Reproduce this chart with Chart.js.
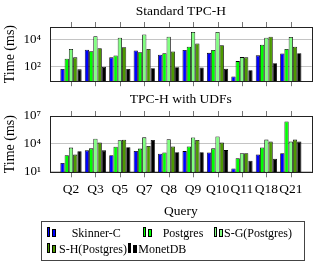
<!DOCTYPE html>
<html><head><meta charset="utf-8">
<script src="https://cdn.jsdelivr.net/npm/chart.js@4/dist/chart.umd.min.js"></script>
<style>
html,body{margin:0;padding:0;background:#fff;width:319px;height:266px;overflow:hidden;font-family:"Liberation Serif",serif;}
canvas{position:absolute;left:0;}
#legend{position:absolute;left:41px;top:221px;width:264px;height:40px;border:1px solid #444;box-sizing:border-box;}
.it{position:absolute;font-size:12px;line-height:14px;white-space:nowrap;color:#000;}
.ic{position:absolute;width:10px;height:10px;}
.ic span{position:absolute;bottom:0;border:1px solid #000;box-sizing:border-box;}
</style></head><body>
<canvas id="c1" width="319" height="98" style="top:0"></canvas>
<canvas id="c2" width="319" height="130" style="top:90px"></canvas>
<div id="legend"></div>
<script>
// ---- data ----
const categories = ['Q2','Q3','Q5','Q7','Q8','Q9','Q10','Q11','Q18','Q21'];
const seriesNames = ['Skinner-C','Postgres','S-G(Postgres)','S-H(Postgres)','MonetDB'];
const seriesColors = ['#0000ff','#00ff00','#80ff80','#4c9900','#000000'];

const stdSkinnerC = [68, 1820, 490, 1550, 760, 1740, 1050, 19, 690, 950];
const stdPostgres = [390, 1380, 680, 1170, 1000, 3000, 1740, 260, 4200, 2040];
const stdSG       = [2040, 18000, 13800, 24000, 16200, 37000, 37000, 510, 13800, 15500];
const stdSH       = [490, 2300, 2700, 2040, 1320, 5100, 3900, 490, 16200, 3000];
const stdMonetDB  = [64, 100, 68, 76, 93, 89, 72, 55, 180, 1000];

const udfSkinnerC = [79, 1860, 540, 1590, 800, 1550, 1120, 20, 680, 930];
const udfPostgres = [540, 3090, 4700, 2900, 1120, 5000, 3090, 260, 3900, 2570000];
const udfSG       = [3700, 35000, 23000, 48000, 29500, 46000, 59000, 930, 27500, 16600];
const udfSH       = [650, 13000, 27000, 5500, 5000, 24500, 13000, 930, 16600, 27500];
const udfMonetDB  = [1480, 1860, 4000, 24500, 1200, 1200, 2000, 138, 230, 16600];

const stdTicks = [100, 10000];
const stdTickLabels = ['10²', '10⁴'];
const udfTicks = [10, 10000, 10000000];
const udfTickLabels = ['10¹', '10⁴', '10⁷'];

const titles = ['Standard TPC-H', 'TPC-H with UDFs'];
const yTitle = 'Time (ms)';
const xTitle = 'Query';

// ---- helpers ----
const FONT = '"Liberation Serif", serif';
const framePlugin = {
  id: 'frame',
  afterDraw(chart) {
    const {ctx, chartArea: a, scales: {x}} = chart;
    ctx.save();
    ctx.strokeStyle = '#777'; ctx.lineWidth = 1;
    x.ticks.forEach(t => {
      const px = Math.round(x.getPixelForValue(t.value)) + 0.5;
      ctx.beginPath();
      ctx.moveTo(px, a.top - 5); ctx.lineTo(px, a.top);
      ctx.moveTo(px, a.bottom); ctx.lineTo(px, a.bottom + 5);
      ctx.stroke();
    });
    ctx.strokeStyle = '#222';
    ctx.strokeRect(Math.round(a.left) + 0.5, Math.round(a.top) + 0.5,
                   Math.round(a.right - a.left), Math.round(a.bottom - a.top));
    ctx.restore();
  }
};
const plotTitlePlugin = {
  id: 'plotTitle',
  afterDraw(chart, args, o) {
    const {ctx, chartArea: a} = chart;
    ctx.save();
    ctx.fillStyle = '#000';
    ctx.font = '13.5px ' + FONT;
    ctx.textAlign = 'center';
    ctx.textBaseline = 'middle';
    ctx.fillText(o.text, (a.left + a.right) / 2, o.y);
    ctx.restore();
  }
};

function makeChart(id, seriesArrays, ticks, tickLabels, yMin, yMax, title, opts) {
  const datasets = seriesArrays.map((arr, i) => ({
    label: seriesNames[i],
    data: arr.map((v, j) => ({x: j, y: v})),
    backgroundColor: seriesColors[i],
    borderColor: '#000',
    borderWidth: 0.8,
    categoryPercentage: 0.87,
    barPercentage: 1.0
  }));
  return new Chart(document.getElementById(id), {
    type: 'bar',
    data: {datasets},
    plugins: [framePlugin, plotTitlePlugin],
    options: {
      responsive: false, animation: false, devicePixelRatio: 1,
      layout: {padding: {left: 0, right: 7.3, top: opts.top, bottom: 0}},
      plugins: {
        legend: {display: false}, tooltip: {enabled: false}, title: {display: false},
        plotTitle: {text: title, y: opts.titleY}
      },
      scales: {
        x: {
          type: 'linear', min: -0.86, max: 9.856, offset: false,
          afterBuildTicks: s => { s.ticks = categories.map((c, i) => ({value: i})); },
          afterFit: s => { s.height = opts.xHeight; },
          grid: {display: false, drawTicks: false},
          border: {display: false},
          ticks: {display: opts.showX, autoSkip: false, maxRotation: 0, minRotation: 0,
            padding: 9, color: '#000', font: {family: FONT, size: 13.5},
            callback: (v) => categories[v]},
          title: {display: opts.showX, text: xTitle, color: '#000',
            font: {family: FONT, size: 13.5}, padding: {top: 2, bottom: 0}}
        },
        y: {
          type: 'logarithmic', min: yMin, max: yMax,
          afterBuildTicks: s => { s.ticks = ticks.map(v => ({value: v})); },
          afterFit: s => { s.width = 50; },
          grid: {color: '#c4c4c4', lineWidth: 1, drawTicks: false},
          border: {display: false},
          ticks: {padding: 9, color: '#000', font: {family: FONT, size: 13},
            callback: (v) => { const k = ticks.indexOf(v); return k >= 0 ? tickLabels[k] : ''; }},
          title: {display: true, text: yTitle, color: '#000',
            font: {family: FONT, size: 14}, padding: {top: 2, bottom: 0}}
        }
      }
    }
  });
}

makeChart('c1', [stdSkinnerC, stdPostgres, stdSG, stdSH, stdMonetDB],
  stdTicks, stdTickLabels, Math.pow(10, 0.93), Math.pow(10, 4.93), titles[0],
  {top: 27, titleY: 11, xHeight: 14.7, showX: false});
makeChart('c2', [udfSkinnerC, udfPostgres, udfSG, udfSH, udfMonetDB],
  udfTicks, udfTickLabels, Math.pow(10, 0.89), 1e7, titles[1],
  {top: 26, titleY: 9.5, xHeight: 47.7, showX: true});

// ---- legend (HTML) ----
const legendLayout = [
  {icon: 4.7, text: 29.7, top: 4},
  {icon: 100.7, text: 120.7, top: 4},
  {icon: 171.7, text: 182, top: 4},
  {icon: 4.7, text: 17, top: 20},
  {icon: 85.7, text: 96.3, top: 20}
];
const leg = document.getElementById('legend');
seriesNames.forEach((name, i) => {
  const L = legendLayout[i];
  const ic = document.createElement('div');
  ic.className = 'ic';
  ic.style.left = L.icon + 'px'; ic.style.top = (L.top + 1) + 'px';
  ic.innerHTML = '<span style="left:0;width:3.5px;height:10px;background:' + seriesColors[i] + '"></span>' +
                 '<span style="left:5px;width:4px;height:8px;background:' + seriesColors[i] + '"></span>';
  leg.appendChild(ic);
  const t = document.createElement('div');
  t.className = 'it';
  t.style.left = L.text + 'px'; t.style.top = L.top + 'px';
  t.textContent = name;
  leg.appendChild(t);
});
</script>
</body></html>
